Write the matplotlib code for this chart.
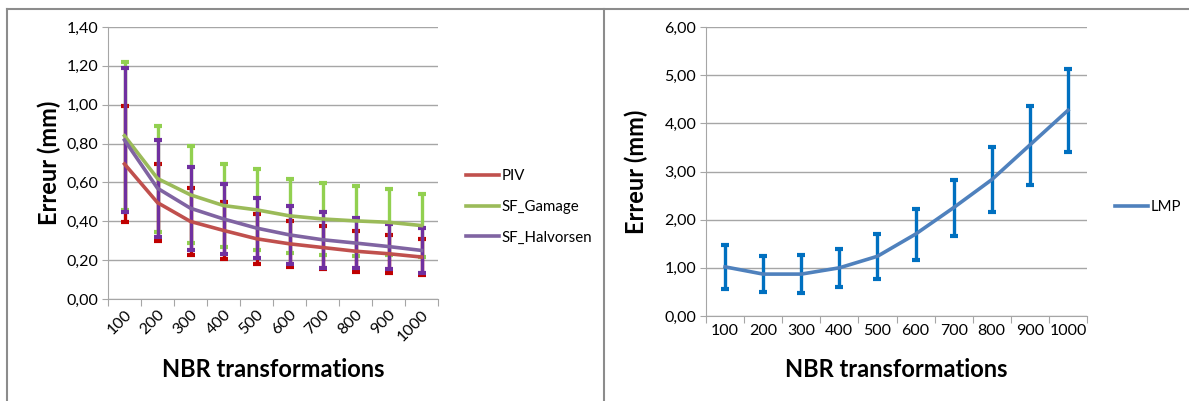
import matplotlib
matplotlib.use("Agg")
import matplotlib.pyplot as plt
from matplotlib.lines import Line2D
from matplotlib.ticker import FuncFormatter, FixedLocator
import numpy as np

plt.rcParams['font.family'] = ['Lato', 'DejaVu Sans']

categories = ["100", "200", "300", "400", "500", "600", "700", "800", "900", "1000"]

# left chart
piv = [0.695, 0.496, 0.399, 0.353, 0.310, 0.284, 0.265, 0.246, 0.233, 0.216]
piv_err = [0.30, 0.20, 0.17, 0.145, 0.13, 0.117, 0.113, 0.105, 0.097, 0.091]
gamage = [0.840, 0.620, 0.536, 0.481, 0.459, 0.428, 0.412, 0.402, 0.395, 0.378]
gamage_err = [0.38, 0.273, 0.25, 0.214, 0.208, 0.19, 0.187, 0.18, 0.171, 0.161]
halvorsen = [0.818, 0.570, 0.467, 0.412, 0.365, 0.330, 0.305, 0.288, 0.270, 0.250]
halvorsen_err = [0.37, 0.25, 0.214, 0.178, 0.153, 0.151, 0.145, 0.131, 0.115, 0.115]

# right chart
lmp = [1.02, 0.87, 0.87, 1.00, 1.24, 1.70, 2.25, 2.83, 3.55, 4.27]
lmp_err = [0.45, 0.38, 0.39, 0.40, 0.47, 0.53, 0.58, 0.68, 0.82, 0.86]

W, H = 1189, 401
fig = plt.figure(figsize=(W / 100, H / 100), dpi=100)

def px_axes(x0, y0, x1, y1):
    return fig.add_axes([x0 / W, 1 - y1 / H, (x1 - x0) / W, (y1 - y0) / H])

comma = FuncFormatter(lambda v, p: ("%.2f" % v).replace(".", ","))
grid_col = "#a6a6a6"

def style_axes(ax, ymax, ystep, rot):
    n = len(categories)
    x = np.arange(n)
    ax.set_xlim(-0.5, n - 0.5)
    ax.set_ylim(0, ymax)
    ax.set_yticks(np.arange(0, ymax + ystep / 2, ystep))
    ax.yaxis.set_major_formatter(comma)
    ax.xaxis.set_major_locator(FixedLocator(np.arange(-0.5, n, 1.0)))
    ax.xaxis.set_major_formatter(FuncFormatter(lambda v, p: ""))
    ax.xaxis.set_minor_locator(FixedLocator(x))
    ax.set_xticklabels(categories, minor=True)
    ax.tick_params(axis="x", which="minor", length=0, labelsize=11.5, pad=6)
    ax.tick_params(axis="x", which="major", length=5, color=grid_col, direction="out")
    ax.tick_params(axis="y", length=4, color=grid_col, labelsize=11.5, pad=3)
    if rot:
        for lab in ax.get_xticklabels(minor=True):
            lab.set_rotation(45)
            lab.set_ha("right")
            lab.set_rotation_mode("anchor")
    ax.yaxis.grid(True, color=grid_col, lw=1)
    ax.set_axisbelow(True)
    for s in ["top", "right"]:
        ax.spines[s].set_visible(False)
    ax.spines["left"].set_color(grid_col)
    ax.spines["bottom"].set_color(grid_col)
    ax.set_ylabel("Erreur (mm)", fontsize=17, fontweight="bold")
    ax.set_xlabel("NBR transformations", fontsize=17, fontweight="bold")

x = np.arange(len(categories))

ax1 = px_axes(108, 27, 438, 299)
series = [
    (piv, piv_err, "#c0504d", "#c00000", "PIV"),
    (gamage, gamage_err, "#9bbb59", "#92d050", "SF_Gamage"),
    (halvorsen, halvorsen_err, "#8064a2", "#7030a0", "SF_Halvorsen"),
]
handles = []
for vals, err, lc, ec, name in series:
    ax1.errorbar(x, vals, yerr=err, fmt="none", ecolor=ec, elinewidth=2.4,
                 capsize=3, capthick=3)
for vals, err, lc, ec, name in series:
    h, = ax1.plot(x, vals, color=lc, lw=2.6, label=name)
    handles.append(h)
style_axes(ax1, 1.4, 0.2, True)
ax1.xaxis.labelpad = 10
ax1.yaxis.labelpad = 4
fig.legend(handles=handles, loc="center left", bbox_to_anchor=(452 / W, 1 - 207 / H),
           frameon=False, fontsize=10.8, handlelength=2.2, handletextpad=0.2,
           labelspacing=1.1)

ax2 = px_axes(706, 27, 1087, 316)
ax2.errorbar(x, lmp, yerr=lmp_err, fmt="none", ecolor="#0070c0", elinewidth=2.4,
             capsize=3, capthick=3)
h2, = ax2.plot(x, lmp, color="#4f81bd", lw=2.6, label="LMP")
style_axes(ax2, 6.0, 1.0, False)
ax2.xaxis.labelpad = 14
ax2.yaxis.labelpad = 12
fig.legend(handles=[h2], loc="center left", bbox_to_anchor=(1101 / W, 1 - 207 / H),
           frameon=False, fontsize=10.8, handlelength=2.2, handletextpad=0.2)

# panel frame
frame_col = "#8c8c8c"
fig.add_artist(Line2D([7 / W, 1], [1 - 9 / H, 1 - 9 / H], color=frame_col, lw=1.5))
fig.add_artist(Line2D([7 / W, 7 / W], [0, 1 - 9 / H], color=frame_col, lw=1.5))
fig.add_artist(Line2D([604 / W, 604 / W], [0, 1 - 9 / H], color=frame_col, lw=1.5))

fig.savefig("out.png", dpi=100)
